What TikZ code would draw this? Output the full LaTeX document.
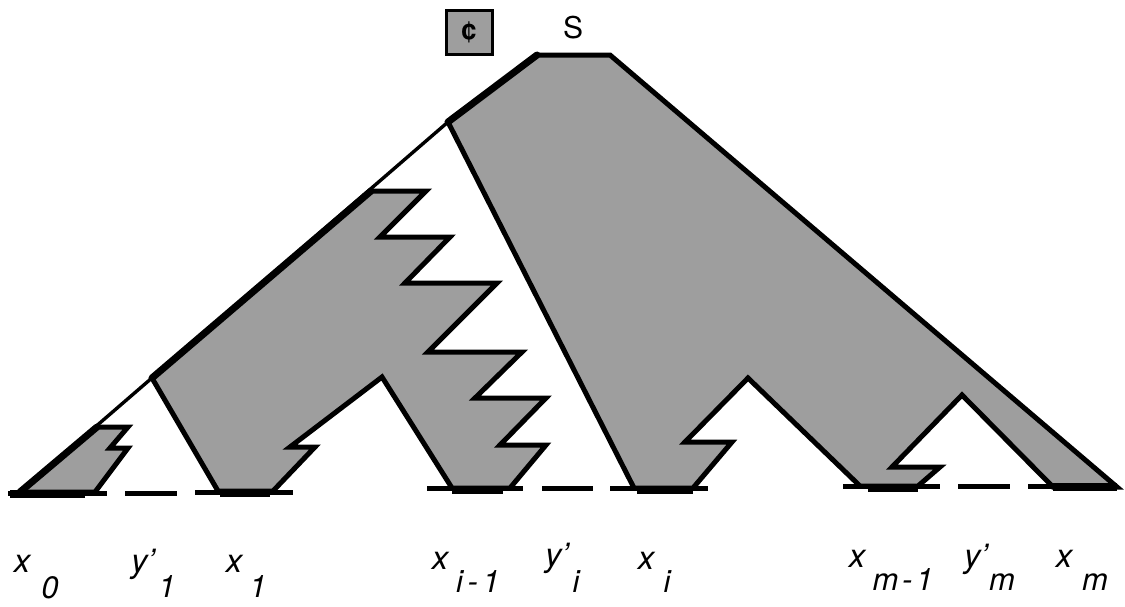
\documentclass[tikz,border=0pt]{standalone}
\usepackage{fontspec}
\setmainfont{TeX Gyre Heros}
\begin{document}
\begin{tikzpicture}[x=1pt,y=-1pt,
  region/.style={fill=black!38, draw=black, line width=5pt, line join=miter, miter limit=4},
  thinline/.style={draw=black, line width=3.4pt},
  boldedge/.style={draw=black, line width=7pt, line cap=round},
  dashseg/.style={draw=black, line width=5pt},
  dashbold/.style={draw=black, line width=8.5pt},
  lab/.style={font=\itshape\fontsize{33}{33}\selectfont, inner sep=0pt, anchor=base},
  sub/.style={font=\itshape\fontsize{31}{31}\selectfont, inner sep=0pt, anchor=base}]
\useasboundingbox (0,0) rectangle (1125,606);

% main left slope (thin)
\coordinate (b0) at (20,492);
\coordinate (apx) at (448,122);
\draw[thinline] (b0) -- (apx);

% small shaded region over x0
\draw[region] (b0) -- (97,427) -- (128,427) -- (110,448) -- (128,448) -- (95,492) -- cycle;

% shaded region over x1 ... x_{i-1}
\draw[region] (152,378) -- (371,191) -- (426,191) -- (380,237) -- (450,237)
  -- (405,283) -- (497,283) -- (428,352) -- (522,352) -- (475,398) -- (546,398)
  -- (500,445) -- (546,445) -- (510,488) -- (452,488) -- (382,377)
  -- (290,447) -- (315,447) -- (273,491) -- (218,491) -- cycle;

% big shaded region under S
\draw[region] (537,55) -- (610,55) -- (1117,487) -- (1053,487) -- (962,395)
  -- (892,467) -- (940,467) -- (918,486) -- (860,486) -- (748,378)
  -- (685,442) -- (732,442) -- (693,488) -- (634,488) -- (apx) -- cycle;

% thick edges along the slope
\draw[boldedge] (apx) -- (537,55);
\draw[boldedge] (152,378) -- (371,191);
\draw[boldedge] (b0) -- (97,427);

% baseline dashes
\draw[dashseg] (8,493) -- (107,493);
\draw[dashbold] (10,494) -- (85,494);
\draw[dashseg] (125,493) -- (177,493);
\draw[dashseg] (195,492) -- (293,492);
\draw[dashbold] (220,493) -- (270,493);
\draw[dashseg] (427,488) -- (523,488);
\draw[dashbold] (452,490) -- (503,490);
\draw[dashseg] (542,488) -- (593,488);
\draw[dashseg] (610,488) -- (708,488);
\draw[dashbold] (637,490) -- (693,490);
\draw[dashseg] (843,486) -- (940,486);
\draw[dashbold] (868,488) -- (918,488);
\draw[dashseg] (958,486) -- (1010,486);
\draw[dashseg] (1028,486) -- (1117,486);
\draw[dashbold] (1053,487) -- (1117,487);

% cent box and S
\node[draw=black, line width=3pt, fill=black!38, minimum width=46pt, minimum height=44pt,
      inner sep=0pt, font=\bfseries\fontsize{28}{28}\selectfont] (cent) at (469,32) {¢};
\node[inner sep=0pt, font=\fontsize{30}{30}\selectfont] (S) at (573,28) {S};

% labels
\node[lab] (x0) at (22,572) {x};
\node[sub] (x0s) at (50,598) {0};
\node[lab] (y1) at (143,572) {y’};
\node[sub] (y1s) at (167,597) {1};
\node[lab] (x1) at (234,572) {x};
\node[sub] (x1s) at (258,597) {1};
\node[lab] (xim) at (440,569) {x};
\node[sub] (xims) at (478,592) {i\hspace{0.15em}-\hspace{0.15em}1};
\node[lab] (yi) at (557,566) {y’};
\node[sub] (yis) at (576,592) {i};
\node[lab] (xi) at (646,569) {x};
\node[sub] (xis) at (667,592) {i};
\node[lab] (xmm) at (857,567) {x};
\node[sub] (xmms) at (903,590) {m\hspace{0.12em}-\hspace{0.12em}1};
\node[lab] (ym) at (976,567) {y’};
\node[sub] (yms) at (1002,590) {m};
\node[lab] (xm) at (1064,567) {x};
\node[sub] (xms) at (1095,590) {m};
\end{tikzpicture}
\end{document}
